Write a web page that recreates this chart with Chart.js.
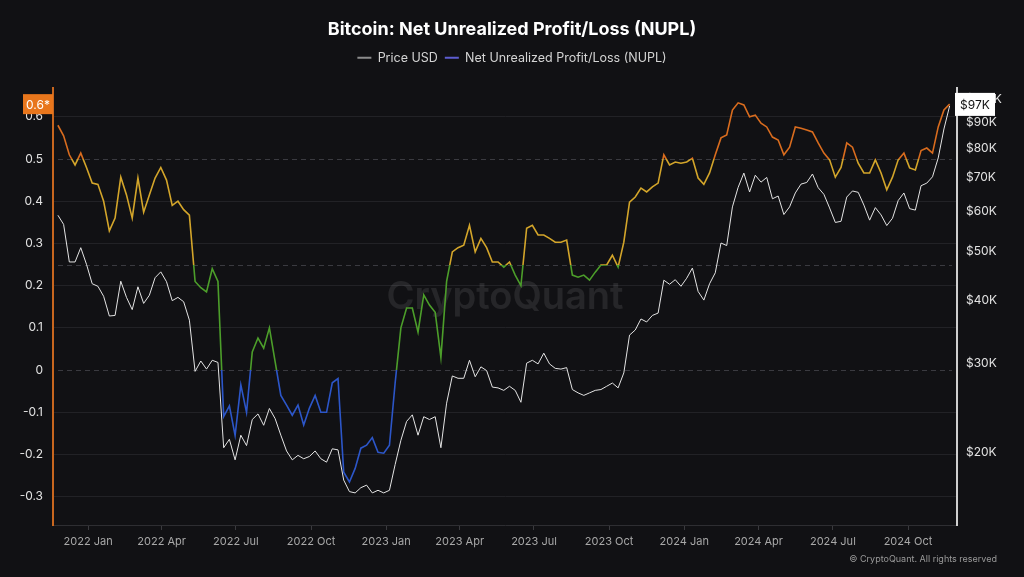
<!DOCTYPE html>
<html>
<head>
<meta charset="utf-8">
<script src="https://cdn.jsdelivr.net/npm/chart.js@4.4.1/dist/chart.umd.min.js"></script>
<style>
  html, body { margin: 0; padding: 0; background: #111114; }
  #wrap { width: 1024px; height: 577px; }
</style>
</head>
<body>
<div id="wrap"><canvas id="nuplChart"></canvas></div>
<script>
// weekly samples, first one on 2021-11-25
const firstWeek = '2021-11-25';

const priceUsd = [
  58900, 56500, 47600, 47600, 50800, 47100, 43100, 42600, 40700, 37200,
  37300, 43600, 40500, 38300, 42500, 39400, 40900, 44300, 45500, 43500,
  39900, 40500, 39700, 36500, 28900, 30300, 29200, 30400, 30100, 20400,
  21200, 19300, 21600, 20600, 23200, 23800, 22600, 24400, 23300, 21600,
  20100, 19300, 19700, 19400, 19600, 20100, 19400, 19100, 20300, 20200,
  17600, 16700, 16600, 17000, 17200, 16600, 16800, 16600, 16800, 18900,
  21100, 23000, 23700, 21600, 23500, 23200, 23500, 20400, 25000, 28300,
  28000, 28000, 30400, 28200, 29500, 29000, 26900, 26800, 26500, 27000,
  26500, 25100, 30000, 30400, 29900, 31400, 29900, 29300, 29200, 29400,
  26600, 26200, 25900, 26200, 26500, 26600, 27000, 27400, 26800, 28700,
  34100, 34900, 36700, 36200, 37300, 37700, 43800, 43000, 43900, 42600,
  44200, 46300, 41600, 40000, 43100, 45300, 51900, 51300, 61200, 66900,
  71400, 65500, 70700, 68500, 70000, 63500, 64300, 59100, 61200, 65200,
  67900, 68400, 71100, 66800, 64800, 60900, 57000, 57300, 64000, 65800,
  65400, 61700, 57600, 61000, 59000, 56200, 58100, 63000, 65200, 60700,
  60300, 67400, 68200, 70200, 76500, 87300, 97000
];

const nupl = [
  0.58, 0.555, 0.51, 0.486, 0.514, 0.48, 0.443, 0.44, 0.40, 0.33,
  0.36, 0.457, 0.415, 0.36, 0.455, 0.374, 0.415, 0.455, 0.48, 0.45,
  0.39, 0.40, 0.38, 0.367, 0.21, 0.195, 0.185, 0.24, 0.21, -0.11,
  -0.085, -0.155, -0.035, -0.10, 0.043, 0.076, 0.052, 0.10, 0.02, -0.06,
  -0.083, -0.107, -0.083, -0.13, -0.09, -0.06, -0.10, -0.10, -0.03, -0.02,
  -0.242, -0.265, -0.233, -0.185, -0.178, -0.16, -0.195, -0.197, -0.178, -0.03,
  0.10, 0.147, 0.147, 0.09, 0.178, 0.154, 0.137, 0.03, 0.21, 0.28,
  0.29, 0.296, 0.343, 0.28, 0.312, 0.29, 0.256, 0.256, 0.244, 0.256,
  0.225, 0.20, 0.336, 0.343, 0.32, 0.32, 0.312, 0.303, 0.303, 0.308,
  0.225, 0.22, 0.225, 0.213, 0.232, 0.249, 0.249, 0.272, 0.244, 0.303,
  0.398, 0.41, 0.431, 0.422, 0.434, 0.443, 0.51, 0.486, 0.493, 0.49,
  0.493, 0.502, 0.455, 0.44, 0.467, 0.51, 0.55, 0.557, 0.616, 0.633,
  0.628, 0.60, 0.604, 0.585, 0.576, 0.552, 0.545, 0.51, 0.528, 0.576,
  0.573, 0.569, 0.564, 0.538, 0.514, 0.498, 0.457, 0.48, 0.538, 0.528,
  0.49, 0.467, 0.467, 0.498, 0.467, 0.427, 0.457, 0.498, 0.514, 0.479,
  0.474, 0.52, 0.526, 0.514, 0.576, 0.616, 0.63
];

const nuplTicks = [-0.3, -0.2, -0.1, 0, 0.1, 0.2, 0.3, 0.4, 0.5, 0.6];
const priceTicks = [20000, 30000, 40000, 50000, 60000, 70000, 80000, 90000, 100000];
const monthTicks = ['2022-01-01', '2022-04-01', '2022-07-01', '2022-10-01',
  '2023-01-01', '2023-04-01', '2023-07-01', '2023-10-01',
  '2024-01-01', '2024-04-01', '2024-07-01', '2024-10-01'];
const monthLabels = ['2022 Jan', '2022 Apr', '2022 Jul', '2022 Oct',
  '2023 Jan', '2023 Apr', '2023 Jul', '2023 Oct',
  '2024 Jan', '2024 Apr', '2024 Jul', '2024 Oct'];

// NUPL zones: above 0.5, 0.25-0.5, 0-0.25, below 0
const nuplBands = [0.5, 0.25, 0];
const bandColors = ['#d96c1e', '#d3a52a', '#4c9e2a', '#2c56c9'];

const FONT = 'Inter, "Noto Sans", sans-serif';
const DAY = 86400000;
const dayOf = s => (Date.parse(s) - Date.parse('2022-01-01')) / DAY;
const startDay = dayOf(firstWeek);

const pricePoints = priceUsd.map((v, i) => ({ x: startDay + 7 * i, y: v }));
const nuplPoints = nupl.map((v, i) => ({ x: startDay + 7 * i, y: v }));

function bandGradient(ctx) {
  const chart = ctx.chart;
  const area = chart.chartArea;
  if (!area) return bandColors[0];
  const yScale = chart.scales.y;
  const h = area.bottom - area.top;
  const g = chart.ctx.createLinearGradient(0, area.top, 0, area.bottom);
  let prev = 0;
  bandColors.forEach((c, i) => {
    let end = i < nuplBands.length ? (yScale.getPixelForValue(nuplBands[i]) - area.top) / h : 1;
    end = Math.min(1, Math.max(0, end));
    g.addColorStop(prev, c);
    g.addColorStop(end, c);
    prev = end;
  });
  return g;
}

// watermark + dashed zone lines
const backdrop = {
  id: 'backdrop',
  beforeDatasetsDraw(chart) {
    const { ctx, chartArea: a, scales } = chart;
    ctx.save();
    ctx.font = '600 38px ' + FONT;
    ctx.fillStyle = 'rgba(255,255,255,0.09)';
    ctx.textAlign = 'center';
    ctx.textBaseline = 'middle';
    ctx.fillText('CryptoQuant', (a.left + a.right) / 2, 298);
    ctx.strokeStyle = '#3a3a40';
    ctx.lineWidth = 1;
    ctx.setLineDash([5, 4]);
    nuplBands.forEach(b => {
      const y = Math.round(scales.y.getPixelForValue(b)) + 0.5;
      ctx.beginPath();
      ctx.moveTo(a.left + 5, y);
      ctx.lineTo(a.right - 5, y);
      ctx.stroke();
    });
    ctx.restore();
  }
};

// last-value badges and footer
const badges = {
  id: 'badges',
  afterDraw(chart) {
    const { ctx, chartArea: a, scales } = chart;
    ctx.save();
    ctx.font = '12px ' + FONT;
    ctx.textBaseline = 'middle';
    ctx.textAlign = 'center';

    const lastN = nupl[nupl.length - 1];
    const yn = scales.y.getPixelForValue(lastN);
    ctx.fillStyle = '#e8761c';
    ctx.fillRect(a.left - 30, yn - 10, 30, 20);
    ctx.fillStyle = '#ffffff';
    ctx.fillText(lastN.toFixed(1) + '*', a.left - 15, yn + 1);

    const lastP = priceUsd[priceUsd.length - 1];
    const yp = scales.y1.getPixelForValue(lastP);
    ctx.fillStyle = '#ffffff';
    ctx.fillRect(a.right - 2, yp - 13, 40, 23);
    ctx.fillStyle = '#111111';
    ctx.fillText('$' + Math.round(lastP / 1000) + 'K', a.right + 18, yp - 1);

    ctx.font = '9px ' + FONT;
    ctx.fillStyle = '#9a9a9a';
    ctx.textAlign = 'right';
    ctx.fillText('\u00A9 CryptoQuant. All rights reserved', 997, 559);
    ctx.restore();
  }
};

const legendSpacer = {
  id: 'legendSpacer',
  beforeInit(chart) {
    const fit = chart.legend.fit;
    chart.legend.fit = function () {
      fit.bind(chart.legend)();
      this.height += 14;
    };
  }
};

const nuplChart = new Chart(document.getElementById('nuplChart'), {
  type: 'line',
  data: {
    datasets: [{
      label: 'Price USD',
      data: pricePoints,
      yAxisID: 'y1',
      borderColor: '#e4e4e4',
      borderWidth: 1,
      pointRadius: 0,
      tension: 0
    }, {
      label: 'Net Unrealized Profit/Loss (NUPL)',
      data: nuplPoints,
      yAxisID: 'y',
      borderColor: bandGradient,
      borderWidth: 1.6,
      pointRadius: 0,
      tension: 0
    }]
  },
  options: {
    responsive: true,
    maintainAspectRatio: false,
    animation: false,
    layout: { padding: 0 },
    plugins: {
      title: {
        display: true,
        text: 'Bitcoin: Net Unrealized Profit/Loss (NUPL)',
        color: '#ffffff',
        font: { family: FONT, size: 18, weight: 'bold' },
        padding: { top: 19, bottom: 4 }
      },
      legend: {
        display: true,
        labels: {
          color: '#d4d4d4',
          font: { family: FONT, size: 12.5 },
          usePointStyle: true,
          pointStyleWidth: 14,
          boxHeight: 6,
          padding: 7,
          generateLabels: () => [
            { text: 'Price USD', strokeStyle: '#8c8c8c', fillStyle: '#8c8c8c', lineWidth: 2, pointStyle: 'line', fontColor: '#d4d4d4', datasetIndex: 0 },
            { text: 'Net Unrealized Profit/Loss (NUPL)', strokeStyle: '#5d5dd0', fillStyle: '#5d5dd0', lineWidth: 2, pointStyle: 'line', fontColor: '#d4d4d4', datasetIndex: 1 }
          ]
        }
      },
      tooltip: { enabled: false }
    },
    scales: {
      x: {
        type: 'linear',
        min: -43,
        max: 1064,
        afterFit: s => { s.height = 52; },
        afterBuildTicks: s => { s.ticks = monthTicks.map(d => ({ value: dayOf(d) })); },
        ticks: {
          autoSkip: false,
          maxRotation: 0,
          color: '#a8a8a8',
          font: { family: FONT, size: 11 },
          padding: 5,
          callback: (v, i) => monthLabels[i]
        },
        grid: { drawOnChartArea: false, drawTicks: true, tickLength: 5, color: '#3a3a3e' },
        border: { color: '#2e2e32', width: 1 }
      },
      y: {
        position: 'left',
        min: -0.367,
        max: 0.668,
        afterFit: s => { s.width = 53; },
        afterBuildTicks: s => { s.ticks = nuplTicks.map(v => ({ value: v })); },
        ticks: {
          color: '#e2e2e2',
          font: { family: FONT, size: 12 },
          padding: 10,
          callback: v => (v === 0 ? '0' : String(+v.toFixed(1)))
        },
        grid: {
          drawTicks: false,
          color: c => ([0, 0.5].includes(+c.tick.value.toFixed(2)) ? 'rgba(0,0,0,0)' : '#222226')
        },
        border: { color: '#c8661e', width: 2 }
      },
      y1: {
        type: 'logarithmic',
        position: 'right',
        min: 14340,
        max: 105200,
        afterFit: s => { s.width = 67; },
        afterBuildTicks: s => { s.ticks = priceTicks.map(v => ({ value: v })); },
        ticks: {
          color: '#e2e2e2',
          font: { family: FONT, size: 12 },
          padding: 9,
          callback: v => '$' + Math.round(v / 1000) + 'K'
        },
        grid: { display: false, drawTicks: false },
        border: { color: '#cfcfcf', width: 2 }
      }
    }
  },
  plugins: [legendSpacer, backdrop, badges]
});
</script>
</body>
</html>
